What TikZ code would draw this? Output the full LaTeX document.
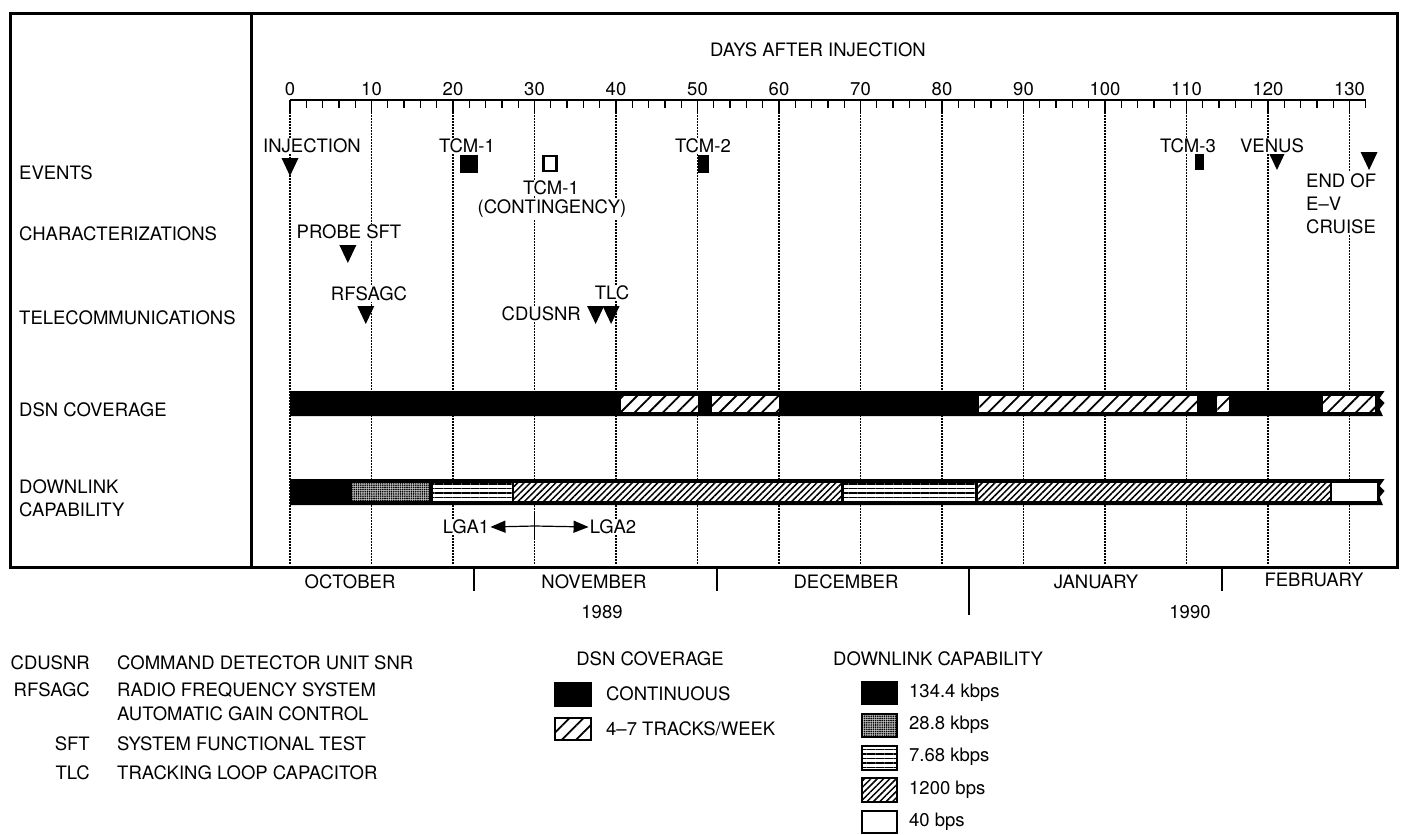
\documentclass[tikz,border=0pt]{standalone}
\usepackage{fontspec}
\setmainfont{TeX Gyre Heros}
\usetikzlibrary{arrows.meta, positioning, patterns.meta}

\tikzset{
  lblA/.style={font=\fontsize{18.5}{23}\selectfont, inner sep=1pt},
  lblW/.style={lblA, fill=white},
  gridD/.style={line width=1.3pt, dash pattern=on 1.5pt off 1.5pt},
  hatchD/.style={preaction={fill=white}, pattern={Lines[angle=45,distance=10pt,line width=1.8pt]}},
  hatchF/.style={preaction={fill=white}, pattern={Lines[angle=45,distance=4.5pt,line width=1.5pt]}},
  hlineA/.style={preaction={fill=white}, pattern={Lines[angle=0,distance=4.5pt,line width=1.5pt]}},
  stipA/.style={preaction={fill=black!25}, pattern={Dots[radius=0.9pt,distance=2.2pt]}},
  keyBox/.style={draw, line width=2.5pt},
  arrowL/.style={-{Triangle[length=15pt,width=12pt]}, line width=1.2pt},
  downtri/.pic={\fill (-8.5pt,0pt) -- (8.5pt,0pt) -- (0pt,-18pt) -- cycle;},
}

\begin{document}
\begin{tikzpicture}[x=1pt, y=-1pt]
  \useasboundingbox (0,0) rectangle (1401,835);

  % frame
  \draw[line width=3pt] (10,13) rectangle (1397,567);
  \draw[line width=3pt] (251,13) -- (251,567);

  % row titles
  \node[lblA, anchor=west] (rEvents) at (18,173) {EVENTS};
  \node[lblA, anchor=west] (rChar) at (18,234) {CHARACTERIZATIONS};
  \node[lblA, anchor=west] (rTel) at (18,318) {TELECOMMUNICATIONS};
  \node[lblA, anchor=west] (rDsn) at (18,410) {DSN COVERAGE};
  \node[lblA, anchor=west, align=left] (rDown) at (18,498) {DOWNLINK\\CAPABILITY};

  \node[lblA] (axTitle) at (818,50) {DAYS AFTER INJECTION};

  % day scale: x in days
  \begin{scope}[xshift=290pt, x=8.15pt]
    \foreach \d in {0,10,...,130}
      \draw[gridD] (\d,112) -- (\d,565);
    \draw[line width=2.5pt] (0,100) -- (132,100);
    \foreach \d in {0,2,...,132}
      \draw[line width=1.3pt] (\d,100) -- (\d,108);
    \foreach \d in {0,10,...,130} {
      \draw[line width=1.5pt] (\d,100) -- (\d,114);
      \node[lblA] (tk\d) at (\d,89) {\d};
    }

    % DSN coverage
    \fill (0,391) -- (134.3,391) -- (133.7,398) -- (134.3,403) -- (133.7,409)
      -- (134.1,416) -- (0,416) -- cycle;
    \foreach \a/\b in {40.6/50.0, 51.8/60.0, 84.6/111.3, 113.8/115.2, 126.7/133.1}
      \path[hatchD] (\a,396) rectangle (\b,412);

    % downlink capability
    \fill (0,479) -- (134.3,479) -- (133.7,486) -- (134.3,491) -- (133.7,497)
      -- (134.1,505) -- (0,505) -- cycle;
    \path[stipA] (7.6,483) rectangle (17.1,501);
    \path[hlineA] (17.5,483) rectangle (27.2,501);
    \path[hatchF] (27.5,483) rectangle (67.6,501);
    \path[hlineA] (68.0,483) rectangle (84.1,501);
    \path[hatchF] (84.4,483) rectangle (127.6,501);
    \path[fill=white] (127.9,483) rectangle (133.4,501);

    % events
    \pic at (0,158) {downtri};
    \fill (20.9,155) rectangle (23.1,173);
    \draw[line width=2.5pt, fill=white] (31.1,156.2) rectangle (32.7,170.8);
    \fill (50.0,155) rectangle (51.4,173);
    \fill (111.0,152) rectangle (112.2,170);
    \pic at (121.1,152) {downtri};
    \pic at (132.4,152) {downtri};

    % characterizations, telecommunications
    \pic at (7.1,245) {downtri};
    \pic at (9.3,306) {downtri};
    \pic at (37.5,306) {downtri};
    \pic at (39.4,306) {downtri};

    \coordinate (lgaS) at (30,526);
    \draw[line width=1.2pt] (30,511) -- (30,539);
  \end{scope}

  % event labels
  \node[lblW] (injL) at (312,146) {INJECTION};
  \node[lblW] (tcm1L) at (467,146) {TCM-1};
  \node[lblW] (tcm1cL) at (551,188) {TCM-1};
  \node[lblW] (contL) at (552,209) {(CONTINGENCY)};
  \node[lblW] (tcm2L) at (703,146) {TCM-2};
  \node[lblW] (tcm3L) at (1188,146) {TCM-3};
  \node[lblW] (venL) at (1272,146) {VENUS};
  \node[lblW, anchor=north west, align=left] (endL) at (1305,172) {END OF\\E--V\\CRUISE};
  \node[lblW] (sftL) at (349,232) {PROBE SFT};
  \node[lblW] (agcL) at (369,294) {RFSAGC};
  \node[lblW] (tlcL) at (612,293) {TLC};
  \node[lblW, anchor=east] (snrL) at (582,314) {CDUSNR};

  % antenna switch
  \node[lblW] (lga1) at (466,527) {LGA1};
  \node[lblW] (lga2) at (613,527) {LGA2};
  \draw[arrowL] (lgaS) -- (lga1.east);
  \draw[arrowL] (lgaS) -- (lga2.west);

  % months
  \node[lblA] (mOct) at (350,582) {OCTOBER};
  \node[lblA] (mNov) at (594,582) {NOVEMBER};
  \node[lblA] (mDec) at (846,582) {DECEMBER};
  \node[lblA] (mJan) at (1096,582) {JANUARY};
  \node[lblA] (mFeb) at (1314,580) {FEBRUARY};
  \draw[line width=1.3pt] (474,567) -- (474,591);
  \draw[line width=1.3pt] (717,567) -- (717,591);
  \draw[line width=1.3pt] (969,567) -- (969,615);
  \draw[line width=1.3pt] (1222,567) -- (1222,591);
  \node[lblA] (y89) at (602,612) {1989};
  \node[lblA] (y90) at (1190,612) {1990};

  % abbreviations
  \node[lblA, anchor=east] (aSnr) at (91,663) {CDUSNR};
  \node[lblA, anchor=east] (aAgc) at (91,690) {RFSAGC};
  \node[lblA, anchor=east] (aSft) at (91,744) {SFT};
  \node[lblA, anchor=east] (aTlc) at (91,773) {TLC};
  \node[lblA, anchor=west] (dSnr) at (116,663) {COMMAND DETECTOR UNIT SNR};
  \node[lblA, anchor=west] (dAgc) at (116,690) {RADIO FREQUENCY SYSTEM};
  \node[lblA, anchor=west] (dAgc2) at (116,714) {AUTOMATIC GAIN CONTROL};
  \node[lblA, anchor=west] (dSft) at (116,744) {SYSTEM FUNCTIONAL TEST};
  \node[lblA, anchor=west] (dTlc) at (116,773) {TRACKING LOOP CAPACITOR};

  % DSN key
  \node[lblA] (kDsn) at (650,659) {DSN COVERAGE};
  \fill (554,682) rectangle (592,707);
  \path[hatchD, keyBox] (555,718) rectangle (591,740);
  \node[lblA, anchor=west] (kCont) at (605,694) {CONTINUOUS};
  \node[lblA, anchor=west] (kTrk) at (605,729) {4--7 TRACKS/WEEK};

  % downlink key
  \node[lblA, anchor=west] (kDown) at (832,659) {DOWNLINK CAPABILITY};
  \fill (861,681) rectangle (898,705);
  \path[stipA, keyBox] (862,714) rectangle (897,737);
  \path[hlineA, keyBox] (862,746) rectangle (897,770);
  \path[hatchF, keyBox] (862,778) rectangle (897,802);
  \path[fill=white, keyBox] (862,811) rectangle (897,833);
  \node[lblA, anchor=west] (k1) at (908,693) {134.4 kbps};
  \node[lblA, anchor=west] (k2) at (908,725) {28.8 kbps};
  \node[lblA, anchor=west] (k3) at (908,757) {7.68 kbps};
  \node[lblA, anchor=west] (k4) at (908,790) {1200 bps};
  \node[lblA, anchor=west] (k5) at (908,822) {40 bps};
\end{tikzpicture}
\end{document}
